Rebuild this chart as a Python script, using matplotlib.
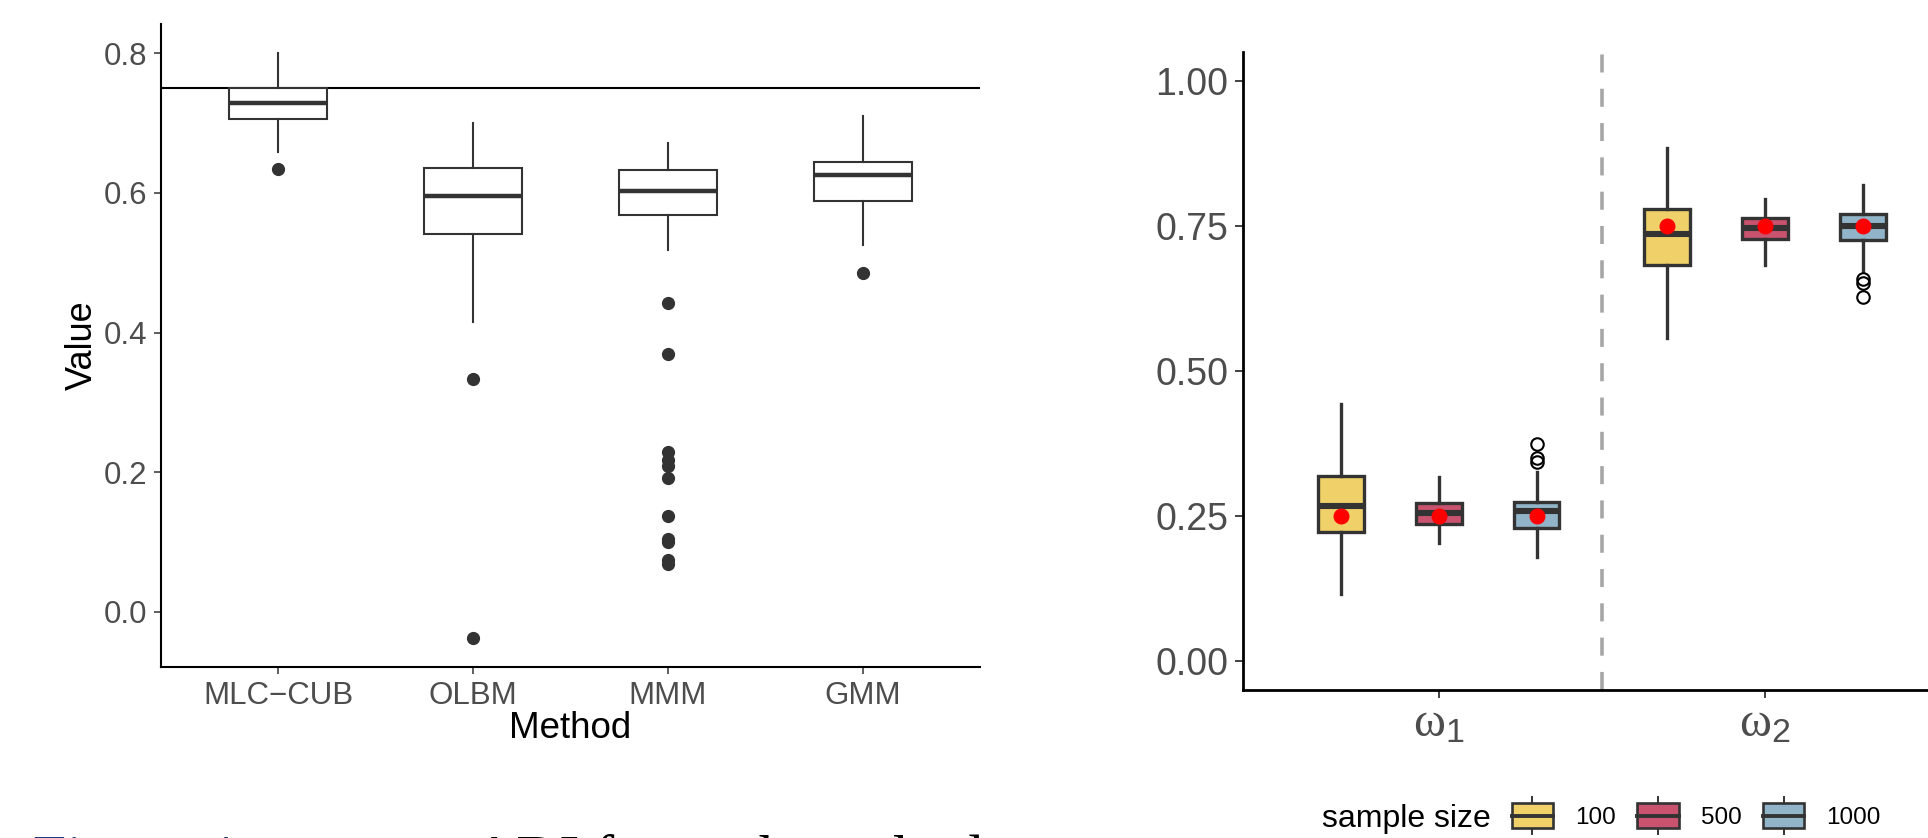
import matplotlib
matplotlib.use("Agg")
import matplotlib.pyplot as plt
from matplotlib.legend_handler import HandlerBase
from matplotlib.patches import Rectangle, Patch
from matplotlib.lines import Line2D

plt.rcParams['font.family'] = ['Liberation Sans', 'DejaVu Sans']
plt.rcParams['mathtext.fontset'] = 'custom'
plt.rcParams['mathtext.rm'] = 'Liberation Sans'
plt.rcParams['mathtext.it'] = 'Liberation Serif'

# left panel: value per method
methods = ['MLC\u2212CUB', 'OLBM', 'MMM', 'GMM']
m_whislo = [0.658, 0.415, 0.519, 0.525]
m_q1 = [0.706, 0.541, 0.569, 0.589]
m_med = [0.729, 0.596, 0.603, 0.626]
m_q3 = [0.750, 0.636, 0.633, 0.645]
m_whishi = [0.800, 0.700, 0.671, 0.710]
m_fliers = [[0.634],
            [0.334, -0.037],
            [0.443, 0.370, 0.229, 0.218, 0.209, 0.191, 0.137, 0.105, 0.100, 0.074, 0.069],
            [0.486]]
true_value = 0.75

# right panel: estimates of omega by sample size
params = [r'$\omega_1$', r'$\omega_2$']
sizes = ['100', '500', '1000']
size_colors = ['#F0D068', '#C9536F', '#92B4C8']
true_omega = [0.25, 0.75]
# [size][param]
w_whislo = [[0.116, 0.557], [0.204, 0.683], [0.179, 0.673]]
w_q1 = [[0.222, 0.683], [0.237, 0.728], [0.230, 0.726]]
w_med = [[0.267, 0.737], [0.256, 0.746], [0.258, 0.750]]
w_q3 = [[0.319, 0.779], [0.273, 0.763], [0.274, 0.770]]
w_whishi = [[0.443, 0.885], [0.318, 0.797], [0.326, 0.821]]
w_fliers = [[[], []], [[], []], [[0.374, 0.350, 0.343], [0.659, 0.652, 0.628]]]

edge = '#333333'
tick_grey = '#4D4D4D'

fig = plt.figure(figsize=(19.28, 8.38), dpi=100)

# ---- left panel
ax1 = fig.add_axes([161 / 1928, 1 - 667 / 838, (980 - 161) / 1928, (667 - 24) / 838])
ax1.axhline(true_value, color='black', lw=1.5, zorder=1)
stats = []
for i in range(len(methods)):
    stats.append(dict(whislo=m_whislo[i], q1=m_q1[i], med=m_med[i], q3=m_q3[i],
                      whishi=m_whishi[i], fliers=m_fliers[i]))
ax1.bxp(stats, positions=range(1, 5), widths=0.5, patch_artist=True, showcaps=False,
        boxprops=dict(facecolor='white', edgecolor=edge, linewidth=1.5),
        whiskerprops=dict(color=edge, linewidth=1.5),
        medianprops=dict(color=edge, linewidth=3.2, solid_capstyle='butt'),
        flierprops=dict(marker='o', markerfacecolor=edge, markeredgecolor=edge, markersize=8.5),
        zorder=2)
ax1.set_xlim(0.4, 4.6)
ax1.set_ylim(-0.079, 0.842)
ax1.set_xticks(range(1, 5))
ax1.set_xticklabels(methods)
ax1.set_yticks([0.0, 0.2, 0.4, 0.6, 0.8])
ax1.set_yticklabels(['0.0', '0.2', '0.4', '0.6', '0.8'])
ax1.tick_params(labelsize=22.5, labelcolor=tick_grey, color=edge, length=4.8, width=1.1, pad=5)
for s in ['top', 'right']:
    ax1.spines[s].set_visible(False)
for s in ['left', 'bottom']:
    ax1.spines[s].set_linewidth(1.5)
ax1.set_xlabel('Method', fontsize=26.5)
ax1.set_ylabel('Value', fontsize=26)
ax1.xaxis.set_label_coords(0.5, -0.068)
ax1.yaxis.set_label_coords(-0.075, 0.5)

# ---- right panel
ax2 = fig.add_axes([1243 / 1928, 1 - 690 / 838, (1928 - 1243) / 1928, (690 - 52) / 838])
ax2.axvline(1.5, color='#A6A6A6', lw=2.6, ls=(0, (5, 4.5)), zorder=1)
offsets = [-0.3, 0.0, 0.3]
for k in range(len(sizes)):
    st = []
    for j in range(len(params)):
        st.append(dict(whislo=w_whislo[k][j], q1=w_q1[k][j], med=w_med[k][j], q3=w_q3[k][j],
                       whishi=w_whishi[k][j], fliers=w_fliers[k][j], mean=true_omega[j]))
    ax2.bxp(st, positions=[j + 1 + offsets[k] for j in range(len(params))], widths=0.14,
            patch_artist=True, showcaps=False, showmeans=True,
            boxprops=dict(facecolor=size_colors[k], edgecolor=edge, linewidth=2.4),
            whiskerprops=dict(color=edge, linewidth=2.4),
            medianprops=dict(color=edge, linewidth=4.4, solid_capstyle='butt'),
            meanprops=dict(marker='o', markerfacecolor='red', markeredgecolor='red', markersize=10.5),
            flierprops=dict(marker='o', markerfacecolor='none', markeredgecolor='black',
                            markersize=9, markeredgewidth=1.5),
            zorder=2)
ax2.set_xlim(0.4, 2.5)
ax2.set_ylim(-0.05, 1.05)
ax2.set_xticks([1, 2])
ax2.set_xticklabels(params)
ax2.set_yticks([0, 0.25, 0.5, 0.75, 1.0])
ax2.set_yticklabels(['0.00', '0.25', '0.50', '0.75', '1.00'])
ax2.tick_params(labelsize=27, labelcolor=tick_grey, color=edge, length=5.5, width=1.3, pad=5)
ax2.tick_params(axis='x', labelsize=35, pad=3)
for s in ['top', 'right']:
    ax2.spines[s].set_visible(False)
for s in ['left', 'bottom']:
    ax2.spines[s].set_linewidth(2.0)


class BoxKey(HandlerBase):
    def create_artists(self, legend, orig_handle, xdescent, ydescent, width, height, fontsize, trans):
        x0, y0 = -xdescent, -ydescent
        cx = x0 + width / 2
        cy = y0 + height / 2
        whisk = Line2D([cx, cx], [y0 - 0.25 * height, y0 + 1.25 * height], color=edge, lw=1.4,
                       transform=trans)
        rect = Rectangle((x0, y0), width, height, facecolor=orig_handle.get_facecolor(),
                         edgecolor=edge, lw=1.9, transform=trans)
        med = Line2D([x0, x0 + width], [cy, cy], color=edge, lw=2.8, transform=trans)
        return [whisk, rect, med]


handles = [Patch(facecolor=c) for c in size_colors]
fig.legend(handles, sizes, handler_map={Patch: BoxKey()}, loc='center left',
           bbox_to_anchor=(1511.5 / 1928, 1 - 816 / 838), ncol=3, frameon=False,
           fontsize=17.5, handlelength=1.7, handleheight=1.2, handletextpad=0.9,
           columnspacing=0.9, borderaxespad=0, borderpad=0)
fig.text(1322 / 1928, 1 - 826.7 / 838, 'sample size', fontsize=23, va='baseline', ha='left')

# caption of the page, cut off by the bottom edge
fig.text(33 / 1928, -0.045, 'Figure 4:', family='Liberation Serif', fontsize=43,
         color='#1F3A7A', va='baseline')
fig.text(473 / 1928, -0.045, 'ADI for each method', family='Liberation Serif', fontsize=43,
         color='black', va='baseline')

fig.savefig('out.png', dpi=100)
